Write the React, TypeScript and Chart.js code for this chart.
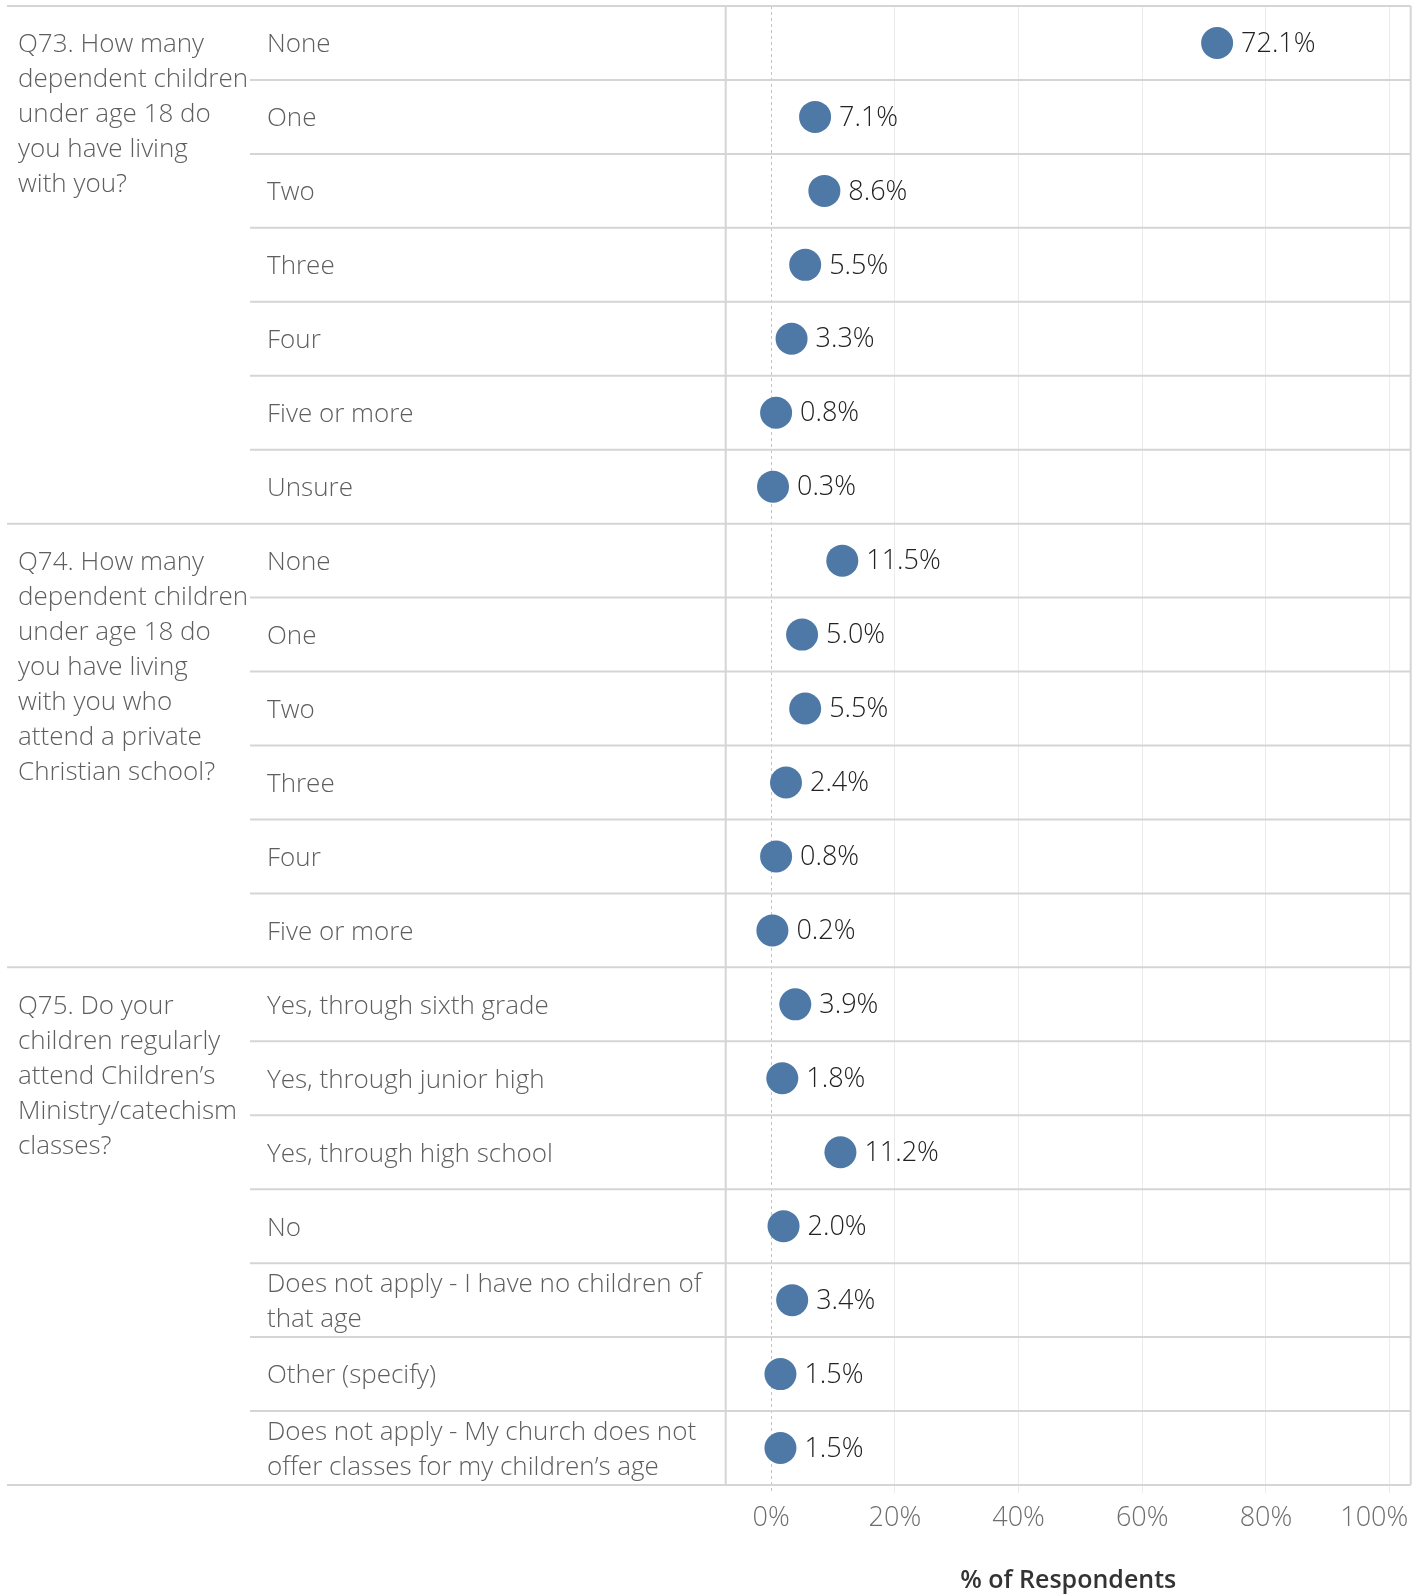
import React, { useEffect, useRef } from "react";
import { Chart, registerables } from "chart.js";

Chart.register(...registerables);

const GROUP_LABELS: string[][] = [
  ["Q73. How many", "dependent children", "under age 18 do", "you have living", "with you?"],
  ["Q74. How many", "dependent children", "under age 18 do", "you have living", "with you who", "attend a private", "Christian school?"],
  ["Q75. Do your", "children regularly", "attend Children\u2019s", "Ministry/catechism", "classes?"],
];
const GROUP_SIZES = [7, 6, 7];

const CATEGORIES: string[][] = [
  ["None"], ["One"], ["Two"], ["Three"], ["Four"], ["Five or more"], ["Unsure"],
  ["None"], ["One"], ["Two"], ["Three"], ["Four"], ["Five or more"],
  ["Yes, through sixth grade"], ["Yes, through junior high"], ["Yes, through high school"], ["No"],
  ["Does not apply - I have no children of", "that age"],
  ["Other (specify)"],
  ["Does not apply - My church does not", "offer classes for my children\u2019s age"],
];

const VALUES = [
  72.1, 7.1, 8.6, 5.5, 3.3, 0.8, 0.3,
  11.5, 5.0, 5.5, 2.4, 0.8, 0.2,
  3.9, 1.8, 11.2, 2.0, 3.4, 1.5, 1.5,
];

const X_TICKS = [0, 20, 40, 60, 80, 100];
const X_MIN = -7.35;
const X_MAX = 103.4;
const AXIS_TITLE = "% of Respondents";

const FONT = "'Open Sans', sans-serif";
const FS = 26;
const FS_NUM = 27;
const LINE_H = 35;
const DOT = "#4e79a7";
const RULE = "#d5d5d5";

const tablePlugin = {
  id: "tablePlugin",
  beforeDatasetsDraw(chart: any) {
    const { ctx, chartArea: ca, scales } = chart;
    const x = scales.x;
    const y = scales.y;
    ctx.save();
    // dashed zero line
    const x0 = Math.round(x.getPixelForValue(0)) + 0.5;
    ctx.strokeStyle = "#c4c4c4";
    ctx.lineWidth = 1;
    ctx.setLineDash([3, 3]);
    ctx.beginPath();
    ctx.moveTo(x0, ca.top);
    ctx.lineTo(x0, ca.bottom + 8);
    ctx.stroke();
    ctx.setLineDash([]);

    // row separators
    const groupStarts = new Set<number>();
    let acc = 0;
    groupStarts.add(0);
    GROUP_SIZES.forEach((g) => { acc += g; groupStarts.add(acc); });
    const total = CATEGORIES.length;
    ctx.strokeStyle = RULE;
    ctx.lineWidth = 2;
    for (let i = 0; i <= total; i++) {
      const yy = y.getPixelForValue(i - 0.5);
      const x1 = groupStarts.has(i) ? 7 : 250;
      ctx.beginPath();
      ctx.moveTo(x1, yy);
      ctx.lineTo(ca.right, yy);
      ctx.stroke();
    }
    // vertical borders
    ctx.beginPath();
    ctx.moveTo(ca.left, ca.top);
    ctx.lineTo(ca.left, ca.bottom);
    ctx.moveTo(ca.right, ca.top);
    ctx.lineTo(ca.right, ca.bottom);
    ctx.stroke();

    // labels
    ctx.font = `300 ${FS}px ${FONT}`;
    ctx.fillStyle = "#5e5e5e";
    ctx.textBaseline = "middle";
    ctx.textAlign = "left";
    CATEGORIES.forEach((lines, i) => {
      const cy = y.getPixelForValue(i) + 2;
      const start = cy - ((lines.length - 1) * LINE_H) / 2;
      lines.forEach((t, k) => ctx.fillText(t, 267, start + k * LINE_H));
    });
    let first = 0;
    GROUP_LABELS.forEach((lines, g) => {
      const cy = y.getPixelForValue(first) + 2;
      lines.forEach((t, k) => ctx.fillText(t, 18, cy + k * LINE_H));
      first += GROUP_SIZES[g];
    });
    ctx.restore();
  },
  afterDatasetsDraw(chart: any) {
    const { ctx } = chart;
    const meta = chart.getDatasetMeta(0);
    ctx.save();
    ctx.font = `300 ${FS_NUM}px ${FONT}`;
    ctx.fillStyle = "#222222";
    ctx.textBaseline = "middle";
    ctx.textAlign = "left";
    meta.data.forEach((el: any, i: number) => {
      ctx.fillText(`${VALUES[i].toFixed(1)}%`, el.x + 24, el.y + 1);
    });
    ctx.restore();
  },
};

export default function App() {
  const ref = useRef<HTMLCanvasElement | null>(null);
  useEffect(() => {
    if (!ref.current) return;
    const chart = new Chart(ref.current, {
      type: "scatter",
      data: {
        datasets: [
          {
            data: VALUES.map((v, i) => ({ x: v, y: i })),
            backgroundColor: DOT,
            borderColor: DOT,
            borderWidth: 0,
            pointRadius: 16,
            pointHoverRadius: 16,
          },
        ],
      },
      options: {
        responsive: false,
        animation: false,
        events: [],
        layout: { autoPadding: false, padding: { left: 725.7, right: 1427 - 1410.7, top: 6, bottom: 0 } },
        plugins: { legend: { display: false }, tooltip: { enabled: false } },
        scales: {
          x: {
            type: "linear",
            min: X_MIN,
            max: X_MAX,
            afterBuildTicks: (s: any) => {
              s.ticks = X_TICKS.map((v) => ({ value: v }));
            },
            afterFit: (s: any) => {
              s.height = 1596 - 1485;
              s.paddingLeft = 0;
              s.paddingRight = 0;
            },
            border: { display: false },
            grid: {
              color: (c: any) => (c.tick && c.tick.value === 0 ? "rgba(0,0,0,0)" : "#ebebeb"),
              tickColor: (c: any) => (c.tick && c.tick.value === 0 ? "rgba(0,0,0,0)" : "#ebebeb"),
              tickLength: 8,
              lineWidth: 1,
            },
            ticks: {
              callback: (v: any) =>
                v === X_TICKS[X_TICKS.length - 1] ? `${v}%\u2007\u2007` : `${v}%`,
              font: { family: FONT, size: FS_NUM, weight: "300" },
              color: "#6e6e6e",
              padding: 9,
              maxRotation: 0,
              autoSkip: false,
            },
            title: {
              display: true,
              text: AXIS_TITLE,
              font: { family: FONT, size: 25, weight: "600" },
              color: "#333333",
              padding: { top: 0, bottom: 0 },
            },
          },
          y: {
            type: "linear",
            min: -0.5,
            max: CATEGORIES.length - 0.5,
            reverse: true,
            display: false,
          },
        },
      },
      plugins: [tablePlugin],
    } as any);
    return () => chart.destroy();
  }, []);
  return (
    <div style={{ position: "absolute", left: 0, top: 0, width: 1427, height: 1596, background: "#fff" }}>
      <canvas ref={ref} width={1427} height={1596} style={{ display: "block" }} />
    </div>
  );
}
